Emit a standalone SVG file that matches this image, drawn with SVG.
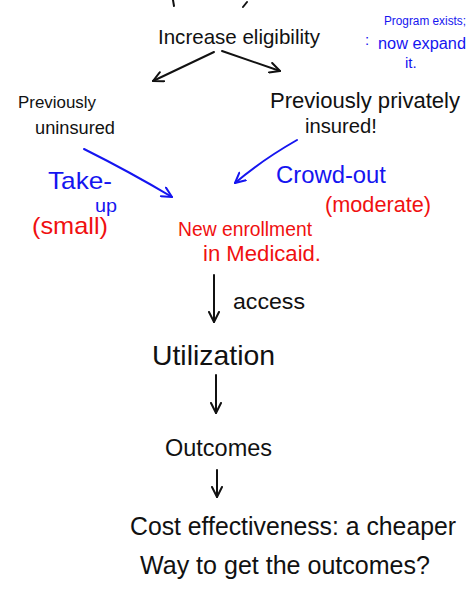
<svg xmlns="http://www.w3.org/2000/svg" width="472" height="590" viewBox="0 0 472 590">
<style>
text{font-family:"Liberation Sans","DejaVu Sans",sans-serif;}
.k{fill:#111;}
.b{fill:#1515f0;}
.r{fill:#f01010;}
.ck{fill:none;stroke:#111;stroke-width:2;stroke-linecap:round;}
.cb{fill:none;stroke:#1515f0;stroke-width:2;stroke-linecap:round;}
</style>
<defs>
<marker id="ak" viewBox="0 0 12 12" refX="11" refY="6" markerWidth="12" markerHeight="12" markerUnits="userSpaceOnUse" orient="auto">
<path d="M1,1 L11,6 L1,11" fill="none" stroke="#111" stroke-width="2" stroke-linecap="round" stroke-linejoin="round"/>
</marker>
<marker id="ab" viewBox="0 0 12 12" refX="11" refY="6" markerWidth="12" markerHeight="12" markerUnits="userSpaceOnUse" orient="auto">
<path d="M1,1 L11,6 L1,11" fill="none" stroke="#1515f0" stroke-width="2" stroke-linecap="round" stroke-linejoin="round"/>
</marker>
</defs>
<rect width="472" height="590" fill="#fff"/>
<path class="ck" d="M173,0 L174,6 M243,7 L247,2"/>
<g id="connectors">
<path class="ck" d="M214,52 L153,81" marker-end="url(#ak)"/>
<path class="ck" d="M222,51 L280,71" marker-end="url(#ak)"/>
<path class="cb" d="M84,149 Q130,172 172,197" marker-end="url(#ab)"/>
<path class="cb" d="M297,140 Q262,160 235,183" marker-end="url(#ab)"/>
<path class="ck" d="M214,275 L214,322" marker-end="url(#ak)"/>
<path class="ck" d="M216,375 L216,413" marker-end="url(#ak)"/>
<path class="ck" d="M217,470 L217,497" marker-end="url(#ak)"/>
</g>
<g id="increase-eligibility">
<text class="k" x="158" y="44" font-size="21" textLength="162" lengthAdjust="spacingAndGlyphs">Increase eligibility</text>
<text class="b" x="365" y="45" font-size="15">:</text>
<text class="b" x="384" y="25" font-size="12" textLength="82" lengthAdjust="spacingAndGlyphs">Program exists;</text>
<text class="b" x="378" y="49" font-size="16" textLength="88" lengthAdjust="spacingAndGlyphs">now expand</text>
<text class="b" x="405" y="68" font-size="15">it.</text>
</g>
<g id="previously-uninsured">
<text class="k" x="18" y="108" font-size="17" textLength="78" lengthAdjust="spacingAndGlyphs">Previously</text>
<text class="k" x="35" y="134" font-size="18" textLength="80" lengthAdjust="spacingAndGlyphs">uninsured</text>
</g>
<g id="previously-privately-insured">
<text class="k" x="270" y="108" font-size="22" textLength="190" lengthAdjust="spacingAndGlyphs">Previously privately</text>
<text class="k" x="305" y="133" font-size="20" textLength="72" lengthAdjust="spacingAndGlyphs">insured!</text>
</g>
<g id="take-up">
<text class="b" x="48" y="189" font-size="24" textLength="64" lengthAdjust="spacingAndGlyphs">Take-</text>
<text class="b" x="95" y="212" font-size="18" textLength="22" lengthAdjust="spacingAndGlyphs">up</text>
<text class="r" x="32" y="234" font-size="24" textLength="76" lengthAdjust="spacingAndGlyphs">(small)</text>
</g>
<g id="crowd-out">
<text class="b" x="276" y="183" font-size="23" textLength="110" lengthAdjust="spacingAndGlyphs">Crowd-out</text>
<text class="r" x="325" y="212" font-size="22" textLength="106" lengthAdjust="spacingAndGlyphs">(moderate)</text>
</g>
<g id="new-enrollment">
<text class="r" x="178" y="236" font-size="20" textLength="134" lengthAdjust="spacingAndGlyphs">New enrollment</text>
<text class="r" x="203" y="261" font-size="22" textLength="118" lengthAdjust="spacingAndGlyphs">in Medicaid.</text>
</g>
<g id="access-label">
<text class="k" x="233" y="309" font-size="22" textLength="72" lengthAdjust="spacingAndGlyphs">access</text>
</g>
<g id="utilization">
<text class="k" x="152" y="365" font-size="28" textLength="123" lengthAdjust="spacingAndGlyphs">Utilization</text>
</g>
<g id="outcomes">
<text class="k" x="165" y="456" font-size="24" textLength="107" lengthAdjust="spacingAndGlyphs">Outcomes</text>
</g>
<g id="cost-effectiveness">
<text class="k" x="130" y="535" font-size="25" textLength="326" lengthAdjust="spacingAndGlyphs">Cost effectiveness: a cheaper</text>
<text class="k" x="140" y="574" font-size="25" textLength="290" lengthAdjust="spacingAndGlyphs">Way to get the outcomes?</text>
</g>
</svg>
